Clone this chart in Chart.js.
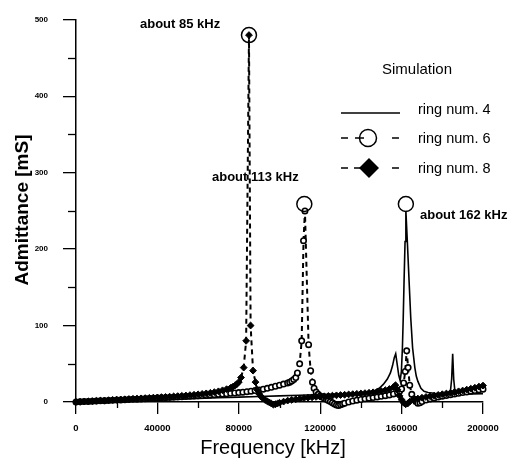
<!DOCTYPE html>
<html><head><meta charset="utf-8">
<script src="https://cdn.jsdelivr.net/npm/chart.js@4"></script>
<style>html,body{margin:0;padding:0;background:#fff;}#wrap{width:512px;height:460px;position:relative;}</style>
</head><body><div id="wrap"><canvas id="c"></canvas></div>
<script>
// ---- data (frequency axis values, admittance in mS) ----
const freq4 = [0,10000,20000,30000,40000,50000,60000,70000,80000,90000,100000,110000,120000,125000,130000,135000,140000,143000,145000,147000,149000,151000,153000,154500,155500,156400,157100,157800,158600,159300,159900,160400,160800,161200,161700,162100,162900,163700,164500,165400,166500,167200,168000,169500,171000,173000,176000,180000,183000,184000,184600,185100,185600,186200,187000,190000,195000,200000];
const adm4 = [0,0.8,1.6,2.4,3.2,4.0,4.8,5.6,6.4,7.2,8.0,8.8,9.6,10.1,10.7,11.3,12.0,12.6,13.2,15,18,23,30,38,47,58,63,50,35,28,40,71,110,157,210,250,205,157,110,71,45,34,27,18,14,12.5,11.5,10.8,10.8,14,30,63,30,14,11,10.5,10.6,11];

const freq6 = [0,2000,4000,6000,8000,10000,12000,14000,16000,18000,20000,22000,24000,26000,28000,30000,32000,34000,36000,38000,40000,42000,44000,46000,48000,50000,52000,54000,56000,58000,60000,62000,64000,66000,68000,70000,72000,74000,76000,78000,80000,82000,84000,86000,88000,90000,92000,94000,96000,98000,100000,102000,104000,105000,106000,107000,108000,108800,109900,110900,111800,112500,114300,115300,116200,117000,118000,119000,120000,121000,122000,123000,124000,125000,126000,127000,128000,129000,130000,131000,132000,134000,136000,138000,140000,142000,144000,146000,148000,150000,152000,154000,156000,158000,159000,160000,161000,161800,162500,163200,164000,165000,166000,167000,168000,169000,170000,172000,174000,176000,178000,180000,182000,184000,186000,188000,190000,192000,194000,196000,198000,200000];
const adm6 = [0,0.25,0.5,0.75,1.0,1.25,1.5,1.75,2.0,2.25,2.5,2.75,3.0,3.25,3.5,3.75,4.0,4.25,4.5,4.8,5.1,5.4,5.7,6.0,6.3,6.6,6.9,7.2,7.5,7.8,8.1,8.4,8.8,9.2,9.6,10.0,10.4,10.8,11.3,11.8,12.3,12.9,13.5,14.2,15.0,15.8,16.8,17.9,19.2,20.6,22.0,23.5,25.0,26.0,27.5,29.5,32.0,38,50,80,211,250,75,41,26,18,13,10,8,6.5,5,3.5,2,0.5,-1,-2.5,-4,-4.5,-3.5,-2.5,-1.5,0,1.3,2.4,3.3,4.2,5.0,5.8,6.6,7.4,8.3,9.3,10.6,12.5,14,17,25,40,67,45,22,10,4,0.5,-1.5,-1,0.5,2.5,4.0,5.3,6.5,7.6,8.6,9.6,10.5,11.4,12.3,13.2,14.1,15.0,15.9,16.8];

const freq8 = [0,2000,4000,6000,8000,10000,12000,14000,16000,18000,20000,22000,24000,26000,28000,30000,32000,34000,36000,38000,40000,42000,44000,46000,48000,50000,52000,54000,56000,58000,60000,62000,64000,66000,68000,70000,72000,74000,76000,77000,78000,79000,80000,81100,82400,83600,85000,85800,87000,88200,89000,90000,91000,92000,93000,94000,95000,96000,97000,98000,99000,100000,102000,104000,106000,108000,110000,112000,114000,116000,118000,120000,122000,124000,126000,128000,130000,132000,134000,136000,138000,140000,142000,144000,146000,148000,150000,152000,154000,156000,157000,158000,159000,160000,161000,162000,163000,164000,166000,168000,170000,172000,174000,176000,178000,180000,182000,184000,186000,188000,190000,192000,194000,196000,198000,200000];
const adm8 = [0,0.3,0.6,0.9,1.2,1.5,1.8,2.1,2.4,2.7,3.0,3.3,3.6,3.9,4.2,4.5,4.8,5.1,5.4,5.7,6.0,6.3,6.6,7.0,7.3,7.7,8.1,8.5,9.0,9.5,10.0,10.6,11.3,12.0,12.9,14.0,15.3,16.8,18.6,19.8,21.3,23.2,26.0,32,45,80,480,100,41,26,16,10.5,7,4.5,2.5,1,-0.5,-2,-3.5,-3,-2,-1,0.5,1.8,2.8,3.6,4.3,5.0,5.6,6.1,6.6,7.0,7.5,7.9,8.3,8.7,9.1,9.5,9.9,10.3,10.7,11.1,11.6,12.1,12.7,13.4,14.3,15.5,17.0,19.5,22.0,16,8,3,-1,-3,-2,0.5,3.0,4.5,5.6,6.6,7.5,8.4,9.3,10.2,11.1,12.0,13.0,14.0,15.0,16.2,17.4,18.7,20.1,21.5];

const peakFreq = [85000,112200,162100];
const peakAdm = [480,259,259];
const peakLabels = ['about 85 kHz','about 113 kHz','about 162 kHz'];
const seriesNames = ['ring num. 4','ring num. 6','ring num. 8'];
const legendTitle = 'Simulation';
const xTicks = [0,40000,80000,120000,160000,200000];
const xMinor = [20000,60000,100000,140000,180000];
const yTicks = [0,100,200,300,400,500];
const yMinor = [50,150,250,350,450];
const xTitle = 'Frequency [kHz]';
const yTitle = 'Admittance [mS]';

function pts(f, a){ const n = Math.min(f.length, a.length); const r = []; for (let i = 0; i < n; i++) r.push({x: f[i], y: a[i]}); return r; }

const FONT = '"Liberation Sans", Arial, sans-serif';

const decor = {
  id: 'decor',
  afterDraw(chart){
    const {ctx, scales:{x, y}} = chart;
    ctx.save();
    ctx.strokeStyle = '#000'; ctx.fillStyle = '#000'; ctx.lineWidth = 1.3;
    // minor ticks
    yMinor.forEach(v => { const py = Math.round(y.getPixelForValue(v)) + 0.5; ctx.beginPath(); ctx.moveTo(x.left - 8, py); ctx.lineTo(x.left, py); ctx.stroke(); });
    xMinor.forEach(v => { const px = Math.round(x.getPixelForValue(v)) + 0.5; ctx.beginPath(); ctx.moveTo(px, y.bottom); ctx.lineTo(px, y.bottom + 6); ctx.stroke(); });
    // peak annotations
    ctx.font = 'bold 13px ' + FONT; ctx.textAlign = 'left'; ctx.textBaseline = 'alphabetic';
    ctx.fillText(peakLabels[0], 140, 28);
    ctx.fillText(peakLabels[1], 212, 181);
    ctx.fillText(peakLabels[2], 420, 219);
    // axis titles
    ctx.font = '20px ' + FONT; ctx.textAlign = 'center';
    ctx.fillText(xTitle, 273, 454);
    ctx.save(); ctx.translate(28, 210); ctx.rotate(-Math.PI/2);
    ctx.font = 'bold 19px ' + FONT; ctx.fillText(yTitle, 0, 0); ctx.restore();
    // legend
    ctx.font = '15px ' + FONT; ctx.textAlign = 'center';
    ctx.fillText(legendTitle, 417, 74);
    ctx.textAlign = 'left'; ctx.font = '14.5px ' + FONT;
    ctx.fillText(seriesNames[0], 418, 114);
    ctx.fillText(seriesNames[1], 418, 143);
    ctx.fillText(seriesNames[2], 418, 173);
    ctx.lineWidth = 1.5;
    ctx.beginPath(); ctx.moveTo(341, 113); ctx.lineTo(400, 113); ctx.stroke();
    // row 2
    ctx.beginPath(); ctx.moveTo(341, 138); ctx.lineTo(348, 138); ctx.moveTo(355, 138); ctx.lineTo(364, 138); ctx.moveTo(392, 138); ctx.lineTo(399, 138); ctx.stroke();
    ctx.beginPath(); ctx.arc(368, 138, 8.5, 0, Math.PI*2); ctx.stroke();
    // row 3
    ctx.beginPath(); ctx.moveTo(341, 168); ctx.lineTo(348, 168); ctx.moveTo(354, 168); ctx.lineTo(360, 168); ctx.moveTo(392, 168); ctx.lineTo(399, 168); ctx.stroke();
    ctx.beginPath(); ctx.moveTo(359, 168); ctx.lineTo(369, 158); ctx.lineTo(379, 168); ctx.lineTo(369, 178); ctx.closePath(); ctx.fill();
    ctx.restore();
  }
};

new Chart(document.getElementById('c'), {
  type: 'line',
  data: {
    datasets: [
      { label: seriesNames[0], data: pts(freq4, adm4), borderColor: '#000', borderWidth: 1.6, pointRadius: 0, tension: 0, clip: false, order: 3 },
      { label: seriesNames[1], data: pts(freq6, adm6), borderColor: '#000', borderWidth: 2, borderDash: [5,4], pointStyle: 'circle', pointRadius: 2.7, pointBorderWidth: 1.6, pointBackgroundColor: '#fff', pointBorderColor: '#000', tension: 0, clip: false, order: 2 },
      { label: seriesNames[2], data: pts(freq8, adm8), borderColor: '#000', borderWidth: 2, borderDash: [5,4], pointStyle: 'rectRot', pointRadius: 3.4, pointBorderWidth: 1, pointBackgroundColor: '#000', pointBorderColor: '#000', tension: 0, clip: false, order: 1 },
      { label: 'peaks', data: pts(peakFreq, peakAdm), showLine: false, pointStyle: 'circle', pointRadius: 7.5, pointBorderWidth: 1.5, pointBackgroundColor: 'rgba(0,0,0,0)', pointBorderColor: '#000', clip: false, order: 0 }
    ]
  },
  options: {
    responsive: true, maintainAspectRatio: false, animation: false, events: [],
    layout: { padding: { top: 13, right: 29, left: 0, bottom: 0 } },
    plugins: { legend: { display: false }, tooltip: { enabled: false } },
    scales: {
      x: {
        type: 'linear', min: 0, max: 200000,
        afterFit(s){ s.height = 58; },
        afterBuildTicks(s){ s.ticks = xTicks.map(v => ({value: v})); },
        ticks: { autoSkip: false, maxRotation: 0, color: '#000', padding: 9, font: { family: FONT, size: 9.5, weight: 'bold' }, callback: v => String(v) },
        grid: { drawOnChartArea: false, drawTicks: true, tickLength: 12, color: '#000', lineWidth: 1.3 },
        border: { display: true, color: '#000', width: 1.5 }
      },
      y: {
        type: 'linear', min: 0, max: 500,
        afterFit(s){ s.width = 76; },
        afterBuildTicks(s){ s.ticks = yTicks.map(v => ({value: v})); },
        ticks: { color: '#000', padding: 15, font: { family: FONT, size: 8, weight: 'bold' }, callback: v => String(v) },
        grid: { drawOnChartArea: false, drawTicks: true, tickLength: 13, color: '#000', lineWidth: 1.3 },
        border: { display: true, color: '#000', width: 1.5 }
      }
    }
  },
  plugins: [decor]
});
</script></body></html>
